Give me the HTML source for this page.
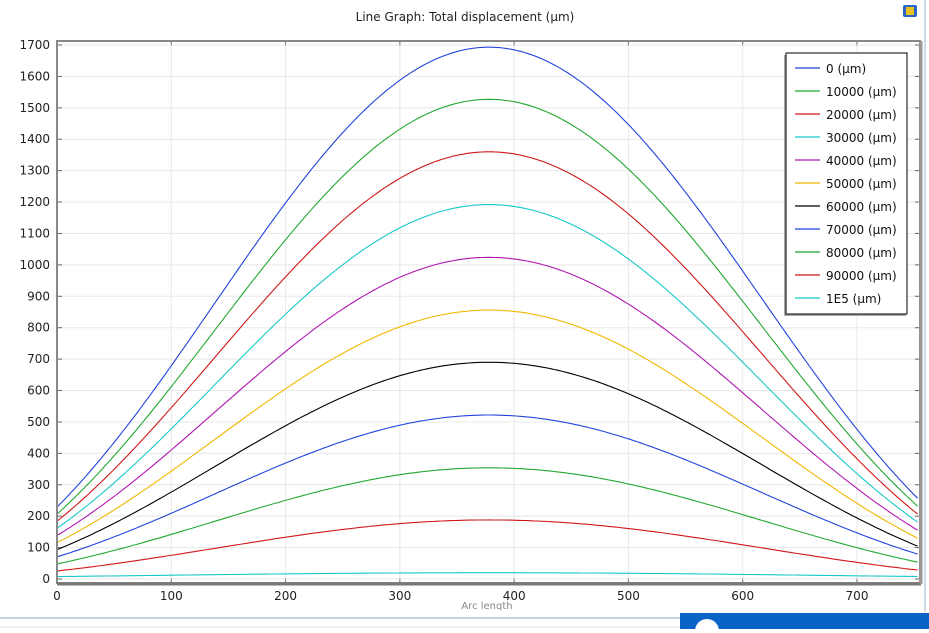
<!DOCTYPE html>
<html><head><meta charset="utf-8"><style>
body{margin:0;background:#fff;width:929px;height:629px;overflow:hidden;font-family:"DejaVu Sans","Liberation Sans",sans-serif}
svg text{font-family:"DejaVu Sans","Liberation Sans",sans-serif}
</style></head><body>
<svg id="s" width="929" height="629" xmlns="http://www.w3.org/2000/svg">
<rect width="929" height="629" fill="#fff"/>
<text x="465" y="21" font-size="12" text-anchor="middle" fill="#222">Line Graph: Total displacement (µm)</text>
<rect x="903" y="5" width="14" height="12" rx="2" fill="#2a66c8"/><rect x="906" y="7" width="8" height="8" fill="#e8c020"/>
<g id="grid"></g>
<g id="curves"></g>
<rect x="57" y="41" width="863" height="542" fill="none" stroke="#888" stroke-width="2"/>
<line x1="57" y1="584" x2="921" y2="584" stroke="#777" stroke-width="3"/>
<line x1="921" y1="41" x2="921" y2="584" stroke="#999" stroke-width="3"/>
<g id="legend"></g>
<text x="487" y="609" font-size="10" text-anchor="middle" fill="#888">Arc length</text>
<rect x="0" y="610" width="929" height="19" fill="#fff"/>
<line x1="0" y1="618" x2="680" y2="618" stroke="#c8d4e0" stroke-width="2"/>
<line x1="0" y1="627" x2="680" y2="627" stroke="#dde4ec" stroke-width="1"/>
<rect x="680" y="613" width="249" height="16" fill="#0a64c8"/>
<circle cx="707" cy="631" r="12" fill="#fff"/>
<line x1="925" y1="0" x2="925" y2="612" stroke="#c8dcec" stroke-width="2"/>
</svg>
<script>
const NS="http://www.w3.org/2000/svg";
function el(p,t,a,txt){const e=document.createElementNS(NS,t);for(const k in a)e.setAttribute(k,a[k]);if(txt!==undefined)e.textContent=txt;document.getElementById(p).appendChild(e);}
const X=v=>57+v*800/700, Y=v=>579-v*534/1700;
for(let i=0;i<=7;i++){const x=X(i*100);el("grid","line",{x1:x,y1:41,x2:x,y2:583,stroke:"#e8e8e8"});el("grid","line",{x1:x,y1:41,x2:x,y2:46,stroke:"#666"});el("grid","line",{x1:x,y1:578,x2:x,y2:583,stroke:"#666"});el("grid","text",{x:x,y:600,"font-size":12,"text-anchor":"middle",fill:"#222"},String(i*100));}
for(let i=0;i<=17;i++){const y=Y(i*100);el("grid","line",{x1:57,y1:y,x2:920,y2:y,stroke:"#e8e8e8"});el("grid","line",{x1:57,y1:y,x2:62,y2:y,stroke:"#666"});el("grid","line",{x1:915,y1:y,x2:920,y2:y,stroke:"#666"});el("grid","text",{x:50,y:y+4,"font-size":12,"text-anchor":"end",fill:"#222"},String(i*100));}
const cols=["#2244dd","#22a830","#d01818","#18c8c8","#b018b0","#f0b800","#000","#2244dd","#22a830","#d01818","#18c8c8"];
const labs=["0","10000","20000","30000","40000","50000","60000","70000","80000","90000","1E5"];
const peaks=[1693,1527,1360,1192,1024,856,690,522,354,188,20];
const g=t=>0.4*(1-Math.cos(Math.PI*t))/2+0.6*Math.sin(Math.PI*t/2);
function f(x){const pk=378,P=1694;if(x<=pk){const e=229;return e+(P-e)*g(x/pk);}const e=250;return e+(P-e)*g((755-x)/(755-pk));}
for(let k=0;k<11;k++){const p=peaks[k];let pts=[];
for(let x=0;x<=755;x+=3){let v;if(k==10){v=8+12*Math.pow(Math.sin(Math.PI*x/757),1.2);}else v=f(x)*p/1694;pts.push(X(x).toFixed(1)+","+Y(v).toFixed(1));}
el("curves","polyline",{points:pts.join(" "),fill:"none",stroke:cols[k],"stroke-width":1.1});}
el("legend","rect",{x:784,y:55,width:122,height:261,fill:"#aaa"});
el("legend","rect",{x:786,y:53,width:121,height:261,fill:"#fff",stroke:"#000"});
for(let k=0;k<11;k++){const y=68+k*23;el("legend","line",{x1:795,y1:y,x2:820,y2:y,stroke:cols[k],"stroke-width":1.2});el("legend","text",{x:826,y:y+5,"font-size":12,fill:"#111"},labs[k]+" (µm)");}
</script>
</body></html>
